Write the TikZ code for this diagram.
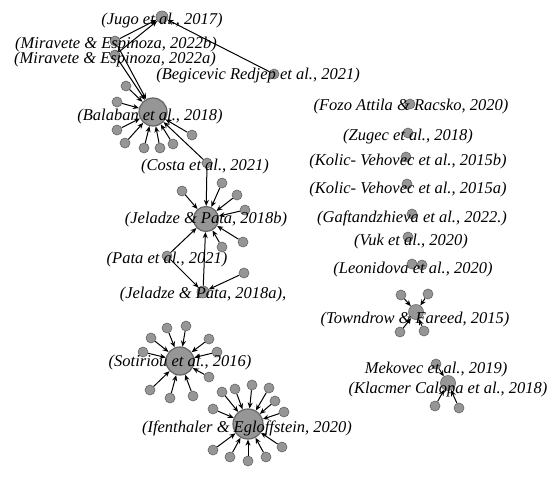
\documentclass[tikz,border=0pt]{standalone}
\usepackage{fontspec}
\setmainfont{Liberation Serif}
\usetikzlibrary{arrows.meta}
\definecolor{nodegray}{RGB}{150,150,150}
\definecolor{rimgray}{RGB}{100,100,100}

\begin{document}
\begin{tikzpicture}[
        x = 1pt, y = -1pt, % one unit per pixel of the reference
        > = {Stealth[length=6pt,width=5pt]}, % arrow head style
        line width = 1pt
    ]

    \tikzstyle{paper}=[
        circle,
        draw = rimgray,
        fill = nodegray,
        line width = 0.6pt,
        inner sep = 0pt,
        minimum size = 10pt
    ]
    \tikzstyle{hub}=[paper, line width = 1.2pt, minimum size = 28pt]
    \tikzstyle{cite}=[font = \fontsize{16.5}{16.5}\selectfont\itshape, inner sep = 0pt]

    \useasboundingbox (0,0) rectangle (553,493);

    % cited and citing papers
    \node[paper, minimum size=12pt] (jugo) at (162,17) {};
    \node[paper] (miraveteb) at (115,41) {};
    \node[paper] (miravetea) at (115,55) {};
    \node[paper] (begicevic) at (274,74) {};
    \node[hub] (balaban) at (153,112) {};
    \node[paper] (costa) at (207,163) {};
    \node[hub, minimum size=25pt] (jeladzeb) at (206,219) {};
    \node[paper] (pata) at (167,256) {};
    \node[paper, minimum size=12pt] (jeladzea) at (203,292) {};
    \node[paper] (jeladzeaLeaf) at (244,273) {};
    \node[hub] (sotiriou) at (180,361) {};
    \node[hub, minimum size=30pt] (ifenthaler) at (248,424) {};
    \node[paper, minimum size=15pt] (towndrow) at (416,312) {};
    \node[paper, minimum size=15pt] (klacmer) at (448,383) {};
    \node[paper] (mekovec) at (436,364) {};

    % papers with no links
    \node[paper] (fozo) at (410,104) {};
    \node[paper] (zugec) at (408,133) {};
    \node[paper] (kolicb) at (406,157) {};
    \node[paper] (kolica) at (407,184) {};
    \node[paper] (gaftandzhieva) at (412,214) {};
    \node[paper] (vuk) at (408,237) {};
    \node[paper] (leonidovaA) at (412,264) {};
    \node[paper] (leonidovaB) at (422,265) {};

    % citations between named papers
    \path[->] (miraveteb) edge (jugo);
    \path[->] (miravetea) edge (jugo);
    \path[->] (begicevic) edge (jugo);
    \path[->] (miraveteb) edge (balaban);
    \path[->] (miravetea) edge (balaban);
    \path[->] (costa) edge (balaban);
    \path[->] (costa) edge (jeladzeb);
    \path[->] (pata) edge (jeladzeb);
    \path[->] (pata) edge (jeladzea);
    \path[->] (jeladzea) edge (jeladzeb);
    \path[->] (jeladzeaLeaf) edge (jeladzea);
    \path[->] (mekovec) edge (klacmer);

    % unlabelled citing papers round each hub
    \foreach \px/\py [count=\i] in {126/86, 117/102, 117/130, 125/143, 144/148, 160/148, 173/144, 192/135} {
        \node[paper] (balaban\i) at (\px,\py) {};
        \path[->] (balaban\i) edge (balaban);
    }
    \foreach \px/\py [count=\i] in {182/191, 222/183, 237/195, 245/210, 243/242, 222/247} {
        \node[paper] (jeladzeb\i) at (\px,\py) {};
        \path[->] (jeladzeb\i) edge (jeladzeb);
    }
    \foreach \px/\py [count=\i] in {167/328, 186/326, 209/339, 217/352, 209/377, 193/396, 170/398, 150/390, 143/352, 151/338} {
        \node[paper] (sotiriou\i) at (\px,\py) {};
        \path[->] (sotiriou\i) edge (sotiriou);
    }
    \foreach \px/\py [count=\i] in {222/392, 235/389, 252/385, 269/388, 275/401, 284/412, 282/447, 266/457, 248/461, 230/457, 213/450, 213/409} {
        \node[paper] (ifenthaler\i) at (\px,\py) {};
        \path[->] (ifenthaler\i) edge (ifenthaler);
    }
    \foreach \px/\py [count=\i] in {401/295, 428/294, 400/332, 424/331} {
        \node[paper] (towndrow\i) at (\px,\py) {};
        \path[->] (towndrow\i) edge (towndrow);
    }
    \foreach \px/\py [count=\i] in {435/406, 459/408} {
        \node[paper] (klacmer\i) at (\px,\py) {};
        \path[->] (klacmer\i) edge (klacmer);
    }

    % labels, printed over the circles
    \node[cite] (jugoLabel) at (162,21) {(Jugo et al., 2017)};
    \node[cite] (miravetebLabel) at (116,45) {(Miravete \& Espinoza, 2022b)};
    \node[cite] (miraveteaLabel) at (115,60) {(Miravete \& Espinoza, 2022a)};
    \node[cite] (begicevicLabel) at (258,76) {(Begicevic Redjep et al., 2021)};
    \node[cite] (balabanLabel) at (150,117) {(Balaban et al., 2018)};
    \node[cite] (costaLabel) at (205,167) {(Costa et al., 2021)};
    \node[cite] (jeladzebLabel) at (206,220) {(Jeladze \& Pata, 2018b)};
    \node[cite] (pataLabel) at (167,260) {(Pata et al., 2021)};
    \node[cite] (jeladzeaLabel) at (203,295) {(Jeladze \& Pata, 2018a),};
    \node[cite] (sotiriouLabel) at (180,363) {(Sotiriou et al., 2016)};
    \node[cite] (ifenthalerLabel) at (247,428) {(Ifenthaler \& Egloffstein, 2020)};
    \node[cite] (fozoLabel) at (411,107) {(Fozo Attila \& Racsko, 2020)};
    \node[cite] (zugecLabel) at (408,137) {(Zugec et al., 2018)};
    \node[cite] (kolicbLabel) at (408,162) {(Kolic- Vehovec et al., 2015b)};
    \node[cite] (kolicaLabel) at (408,190) {(Kolic- Vehovec et al., 2015a)};
    \node[cite] (gaftandzhievaLabel) at (412,218) {(Gaftandzhieva et al., 2022.)};
    \node[cite] (vukLabel) at (411,242) {(Vuk et al., 2020)};
    \node[cite] (leonidovaLabel) at (413,270) {(Leonidova et al., 2020)};
    \node[cite] (towndrowLabel) at (415,320) {(Towndrow \& Fareed, 2015)};
    \node[cite] (mekovecLabel) at (436,370) {Mekovec et al., 2019)};
    \node[cite] (klacmerLabel) at (448,390) {(Klacmer Calopa et al., 2018)};
\end{tikzpicture}
\end{document}
